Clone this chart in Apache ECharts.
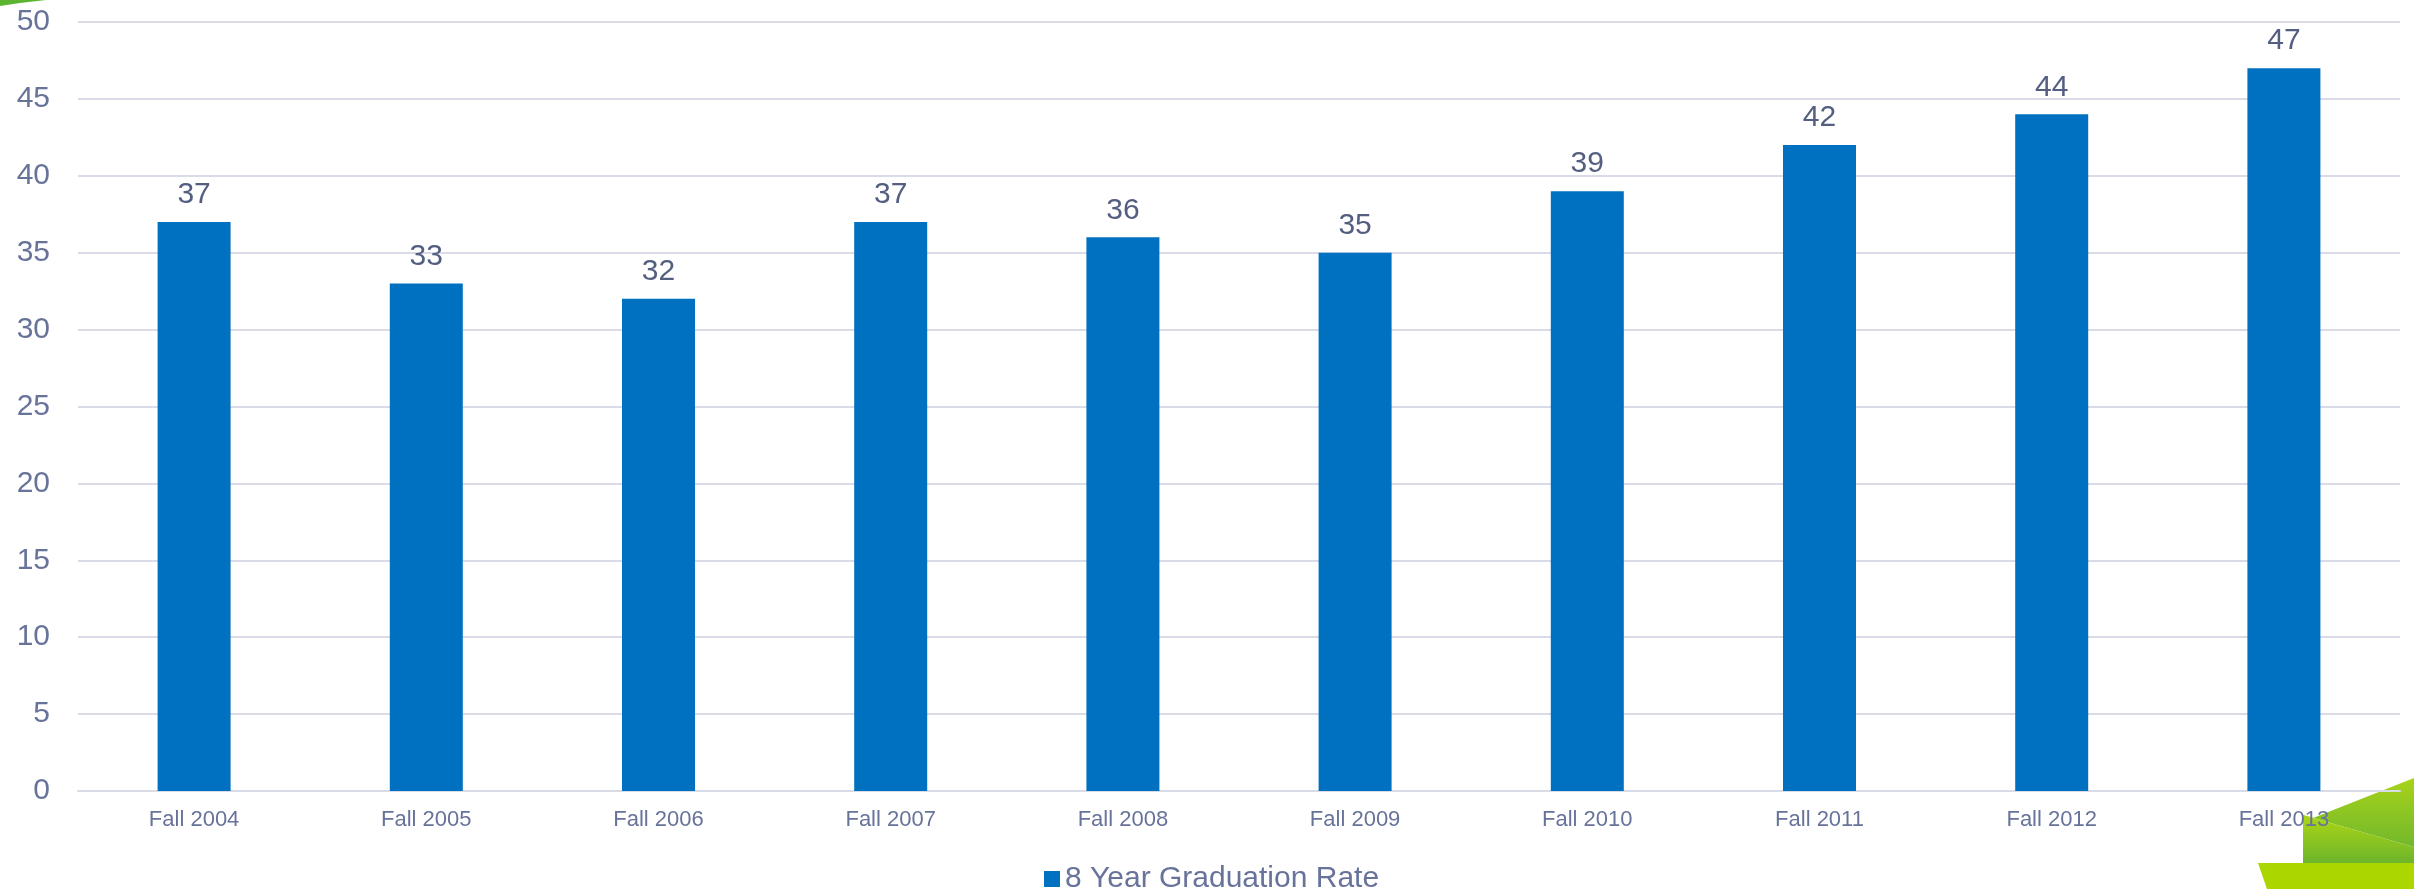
<!DOCTYPE html>
<html>
<head>
<meta charset="utf-8">
<script src="https://cdn.jsdelivr.net/npm/echarts@6/dist/echarts.min.js"></script>
<style>
html,body{margin:0;padding:0;background:#fff;}
#main{width:2414px;height:889px;}
</style>
</head>
<body>
<div id="main"></div>
<script>
const categories = ["Fall 2004","Fall 2005","Fall 2006","Fall 2007","Fall 2008","Fall 2009","Fall 2010","Fall 2011","Fall 2012","Fall 2013"];
const rates = [37,33,32,37,36,35,39,42,44,47];
const seriesName = "8 Year Graduation Rate";

const chart = echarts.init(document.getElementById('main'), null, {renderer:'canvas'});
const font = '"Liberation Sans", Arial, sans-serif';
chart.setOption({
  backgroundColor:'#ffffff',
  animation:false,
  textStyle:{fontFamily:font},
  grid:{left:78, right:14, top:22, bottom:98, containLabel:false},
  legend:{
    data:[seriesName], left:1039, top:859, itemWidth:16, itemHeight:16, icon:'rect',
    textStyle:{fontSize:30, color:'#68739a', fontFamily:font}
  },
  xAxis:{
    type:'category', data:categories,
    axisLine:{show:true, lineStyle:{color:'#d9dce6', width:2}},
    axisTick:{show:false},
    axisLabel:{fontSize:22, color:'#68739a', margin:18, fontFamily:font}
  },
  yAxis:{
    type:'value', min:0, max:50, interval:5,
    axisLine:{show:false}, axisTick:{show:false},
    splitLine:{lineStyle:{color:'#d9dce6', width:2}},
    axisLabel:{fontSize:30, color:'#68739a', margin:28, fontFamily:font}
  },
  series:[{
    name:seriesName, type:'bar', data:rates, barWidth:73,
    itemStyle:{color:'#0070c0'},
    label:{show:true, position:'top', distance:12, fontSize:30, color:'#535e80', fontFamily:font}
  }],
  graphic:[
    {type:'polygon', shape:{points:[[0,0],[46,0],[20,3],[0,6]]}, style:{fill:'#5cb531'}},
    {type:'polygon', shape:{points:[[2303,822],[2414,778],[2414,847],[2303,815]]},
      style:{fill:new echarts.graphic.LinearGradient(0,0,0,1,[{offset:0,color:'#a8d31a'},{offset:1,color:'#72b82c'}])}},
    {type:'polygon', shape:{points:[[2303,815],[2414,847],[2414,863],[2303,863]]},
      style:{fill:new echarts.graphic.LinearGradient(0,0,0,1,[{offset:0,color:'#add614'},{offset:1,color:'#6db52c'}])}},
    {type:'polygon', shape:{points:[[2258,863],[2414,863],[2414,889],[2267,889]]}, style:{fill:'#acd600'}}
  ]
});
</script>
</body>
</html>
